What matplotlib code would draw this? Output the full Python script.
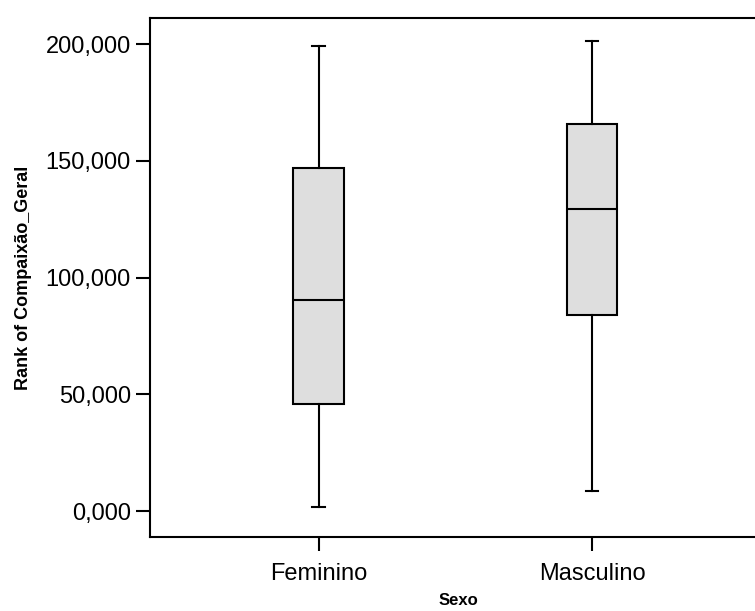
import matplotlib.pyplot as plt
from matplotlib.ticker import FuncFormatter

plt.rcParams['font.family'] = ['Liberation Sans', 'DejaVu Sans']

categories = ['Feminino', 'Masculino']
whisker_low = [1700, 8600]
q1 = [45800, 84000]
median = [90400, 129400]
q3 = [147000, 165800]
whisker_high = [199200, 201400]
y_ticks = [0, 50000, 100000, 150000, 200000]

stats = []
for i, name in enumerate(categories):
    stats.append({'label': name, 'whislo': whisker_low[i], 'q1': q1[i],
                  'med': median[i], 'q3': q3[i], 'whishi': whisker_high[i],
                  'fliers': []})

fig = plt.figure(figsize=(7.55, 6.11), dpi=100)
ax = fig.add_axes([0.199, 0.121, 0.801, 0.8495])

ax.bxp(stats, positions=[1, 2], widths=0.183, patch_artist=True,
       showfliers=False,
       boxprops=dict(facecolor='#dedede', edgecolor='black', linewidth=1.5),
       medianprops=dict(color='black', linewidth=1.5),
       whiskerprops=dict(color='black', linewidth=1.5),
       capprops=dict(color='black', linewidth=1.5), capwidths=0.045)

ax.set_xlim(0.385, 2.595)
ax.set_ylim(-11100, 211200)
ax.set_yticks(y_ticks)
# SPSS style: value in thousands with comma as decimal separator
ax.yaxis.set_major_formatter(FuncFormatter(lambda v, p: f'{v / 1000:.3f}'.replace('.', ',')))
ax.set_xticks([1, 2])
ax.set_xticklabels(categories)
ax.tick_params(axis='both', length=10, width=1.5, labelsize=17)
ax.tick_params(axis='y', pad=4)
ax.tick_params(axis='x', pad=9)
for s in ax.spines.values():
    s.set_linewidth(1.5)
ax.spines['right'].set_visible(False)

ax.set_ylabel('Rank of Compaixão_Geral', fontsize=13, fontweight='bold', labelpad=10)
ax.set_xlabel('Sexo', fontsize=12, fontweight='bold', va='center')
ax.xaxis.set_label_coords(0.509, -0.123)

fig.savefig('out.png', dpi=100)
